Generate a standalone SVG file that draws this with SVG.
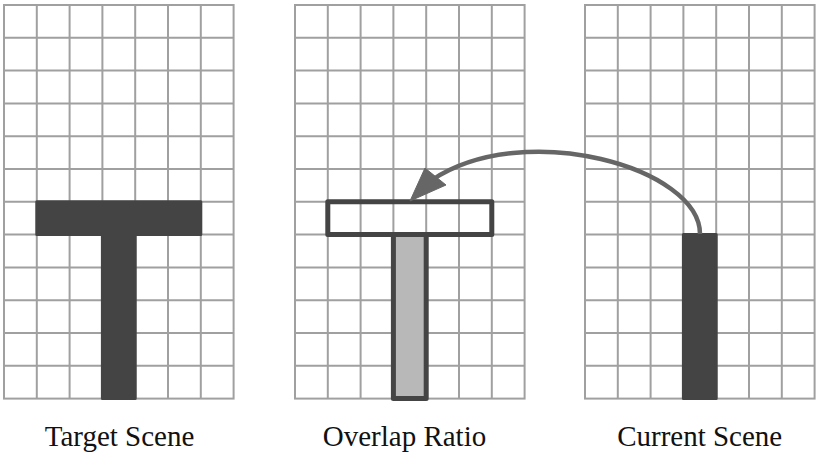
<svg xmlns="http://www.w3.org/2000/svg" xmlns:xlink="http://www.w3.org/1999/xlink" width="830" height="459" viewBox="0 0 830 459">
<style>
.gridline{fill:none;stroke:#a0a0a0;stroke-width:2}
.solid{fill:#444;stroke:#444;stroke-width:3;stroke-linejoin:round}
.outline{fill:none;stroke:#444;stroke-width:5;stroke-linejoin:round}
.partial{fill:#b8b8b8;stroke:#444;stroke-width:5;stroke-linejoin:round}
.label{font-family:"Liberation Serif","Times New Roman",serif;font-size:29px;fill:#111;text-anchor:middle}
.conn{fill:none;stroke:#666;stroke-width:4.5}
</style>
<defs>
<g id="grid">
<rect x="0" y="0" width="229.6" height="393.6" fill="#fff" class="gridline"/>
<path class="gridline" d="M32.8 0V393.6M65.6 0V393.6M98.4 0V393.6M131.2 0V393.6M164 0V393.6M196.8 0V393.6M0 32.8H229.6M0 65.6H229.6M0 98.4H229.6M0 131.2H229.6M0 164H229.6M0 196.8H229.6M0 229.6H229.6M0 262.4H229.6M0 295.2H229.6M0 328H229.6M0 360.8H229.6"/>
</g>
</defs>
<g id="target-scene">
<use xlink:href="#grid" href="#grid" transform="translate(4,5)"/>
<rect class="solid" x="36.8" y="201.8" width="164" height="32.8"/>
<rect class="solid" x="102.4" y="234.6" width="32.8" height="164"/>
<text class="label" x="119.5" y="445.5">Target Scene</text>
</g>
<g id="overlap-ratio">
<use xlink:href="#grid" href="#grid" transform="translate(295,5)"/>
<rect class="partial" x="393.4" y="234.6" width="32.8" height="164"/>
<rect class="outline" x="327.8" y="201.8" width="164" height="32.8"/>
<text class="label" x="404.5" y="445.5">Overlap Ratio</text>
</g>
<g id="current-scene">
<use xlink:href="#grid" href="#grid" transform="translate(585,5)"/>
<rect class="solid" x="683.4" y="234.6" width="32.8" height="164"/>
<text class="label" x="699.7" y="445.5">Current Scene</text>
</g>
<g id="connectors">
<path class="conn" d="M700 234 C700 168 525 118 432 180"/>
<polygon points="410,201 425,168 446,185" fill="#666" stroke="#666" stroke-width="1" stroke-linejoin="round"/>
</g>
</svg>
